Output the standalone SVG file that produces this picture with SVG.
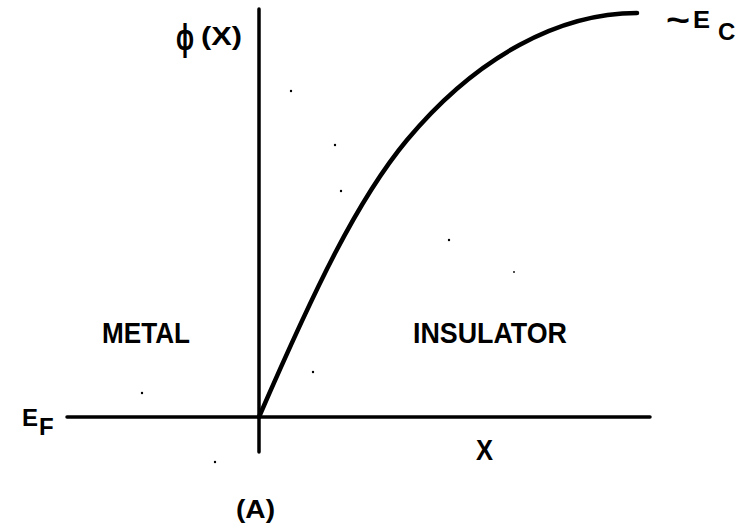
<svg xmlns="http://www.w3.org/2000/svg" width="749" height="529" viewBox="0 0 749 529">
<style>
.ax{stroke:#000;stroke-width:3.5;fill:none;stroke-linecap:round}
.cv{stroke:#000;stroke-width:4.5;fill:none;stroke-linecap:round}
.t{font-family:"Liberation Sans",Arial,sans-serif;font-weight:bold;fill:#000}
.dot{fill:#000}
</style>
<rect width="749" height="529" fill="#fff"/>
<g id="connectors">
<line class="ax" x1="259" y1="9" x2="259" y2="452"/>
<line class="ax" x1="67" y1="417" x2="650" y2="417"/>
<path class="cv" d="M259,417 C314,290.5 357,200 407,140 C477,56 560,13 637,13"/>
</g>
<g id="labels">
<text class="t" x="176" y="50" font-size="36" textLength="18" lengthAdjust="spacingAndGlyphs">ϕ</text>
<text class="t" x="201" y="45" font-size="26" textLength="41" lengthAdjust="spacingAndGlyphs">(X)</text>
<text class="t" x="666" y="31" font-size="34" textLength="24" lengthAdjust="spacingAndGlyphs">~</text>
<text class="t" x="693" y="28" font-size="23" textLength="17" lengthAdjust="spacingAndGlyphs">E</text>
<text class="t" x="718" y="40" font-size="24">C</text>
<text class="t" x="22" y="426" font-size="24">E</text>
<text class="t" x="39" y="435" font-size="24">F</text>
<text class="t" x="102" y="343" font-size="30" textLength="88" lengthAdjust="spacingAndGlyphs">METAL</text>
<text class="t" x="413" y="343" font-size="30" textLength="154" lengthAdjust="spacingAndGlyphs">INSULATOR</text>
<text class="t" x="476" y="460" font-size="29" textLength="17" lengthAdjust="spacingAndGlyphs">X</text>
<text class="t" x="236" y="518" font-size="26" textLength="39" lengthAdjust="spacingAndGlyphs">(A)</text>
</g>
<g id="specks">
<circle class="dot" cx="291" cy="91" r="1.2"/>
<circle class="dot" cx="335" cy="145" r="1.2"/>
<circle class="dot" cx="341" cy="191" r="1.2"/>
<circle class="dot" cx="449" cy="240" r="1.2"/>
<circle class="dot" cx="514" cy="272" r="0.9"/>
<circle class="dot" cx="313" cy="372" r="1.2"/>
<circle class="dot" cx="142" cy="393" r="1.2"/>
<circle class="dot" cx="215" cy="462" r="1.2"/>
</g>
</svg>
